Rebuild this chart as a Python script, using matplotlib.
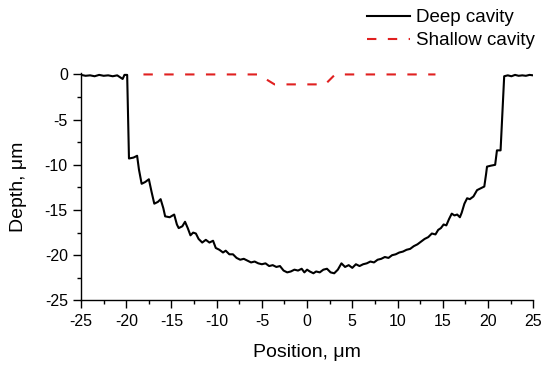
import matplotlib.pyplot as plt
from matplotlib.ticker import MultipleLocator

plt.rcParams['font.family'] = ['Liberation Sans', 'DejaVu Sans']
plt.rcParams['axes.unicode_minus'] = False

# deep cavity profile
deep_x = [-25.0, -24.5, -24.0, -23.5, -23.0, -22.5, -22.0, -21.5, -21.0, -20.7, -20.4, -20.2,
          -19.9, -19.7, -19.2, -18.8, -18.6, -18.3, -17.9, -17.5, -17.2, -16.9, -16.5, -16.2,
          -15.9, -15.7, -15.2, -14.7, -14.4, -14.2, -13.8, -13.5, -13.2, -12.9, -12.6, -12.3,
          -12.0, -11.6, -11.2, -10.8, -10.4, -10.1, -9.7, -9.3, -9.0, -8.6, -8.2, -7.8, -7.4,
          -7.0, -6.6, -6.2, -5.8, -5.4, -5.0, -4.6, -4.2, -3.8, -3.4, -3.0, -2.6, -2.2, -1.8,
          -1.4, -1.0, -0.6, -0.3, 0.0, 0.3, 0.7, 1.0, 1.4, 1.8, 2.2, 2.6, 3.0, 3.4, 3.8, 4.2,
          4.6, 5.0, 5.4, 5.8, 6.2, 6.6, 7.0, 7.4, 7.8, 8.2, 8.6, 9.0, 9.4, 9.8, 10.2, 10.6,
          11.0, 11.4, 11.8, 12.2, 12.6, 13.0, 13.4, 13.8, 14.2, 14.5, 14.8, 15.1, 15.4, 15.7,
          16.0, 16.3, 16.6, 16.9, 17.1, 17.4, 17.7, 18.0, 18.4, 18.8, 19.2, 19.6, 19.8, 19.9,
          20.3, 20.8, 21.0, 21.4, 21.8, 22.2, 22.6, 23.0, 23.4, 23.8, 24.2, 24.6, 25.0]
deep_y = [-0.05, -0.15, -0.1, -0.2, -0.05, -0.15, -0.1, -0.2, -0.1, -0.3, -0.5, -0.05,
          -0.05, -9.3, -9.2, -9.0, -10.5, -12.1, -11.9, -11.6, -13.0, -14.3, -14.1, -13.8,
          -14.8, -15.7, -15.8, -15.5, -16.6, -17.0, -16.8, -16.3, -17.0, -17.8, -17.5, -17.6,
          -18.2, -18.6, -18.3, -18.6, -18.4, -19.2, -19.4, -19.7, -19.5, -19.9, -19.9, -20.3, -20.5,
          -20.4, -20.6, -20.8, -20.7, -20.9, -21.0, -20.9, -21.2, -21.1, -21.3, -21.2, -21.7, -21.9, -21.8,
          -21.6, -21.7, -21.5, -21.9, -21.6, -21.8, -22.0, -21.8, -21.9, -21.6, -21.5, -21.9, -22.0, -21.6, -20.9, -21.3,
          -21.1, -21.4, -21.0, -21.2, -21.0, -20.9, -20.7, -20.8, -20.5, -20.4, -20.2, -20.3, -20.0, -19.9, -19.7, -19.6,
          -19.4, -19.3, -19.0, -18.8, -18.5, -18.2, -18.0, -17.6, -17.7, -17.2, -17.0, -16.6, -16.7, -16.0,
          -15.4, -15.6, -15.5, -15.8, -15.3, -14.3, -13.7, -13.8, -13.5, -12.8, -12.6, -12.4, -11.0, -10.2,
          -10.1, -10.0, -8.4, -8.4, -0.2, -0.1, -0.2, -0.05, -0.15, -0.1, -0.15, -0.05, -0.1]

# shallow cavity profile
shallow_x = [-18.1, -5.4, -3.6, 2.0, 3.1, 14.2]
shallow_y = [0.0, 0.0, -1.1, -1.1, 0.0, 0.0]

fig = plt.figure(figsize=(5.44, 3.65), dpi=100)
ax = fig.add_axes([0.149, 0.177, 0.831, 0.624])

ax.plot(deep_x, deep_y, color='black', lw=1.5, label='Deep cavity')
ax.plot(shallow_x, shallow_y, color='#e02020', lw=1.5, dashes=[4.5, 5.5], label='Shallow cavity')

ax.set_xlim(-25, 25)
ax.set_ylim(-25, 0.2)
ax.xaxis.set_major_locator(MultipleLocator(5))
ax.xaxis.set_minor_locator(MultipleLocator(2.5))
ax.yaxis.set_major_locator(MultipleLocator(5))
ax.yaxis.set_minor_locator(MultipleLocator(2.5))
ax.tick_params(which='major', direction='out', length=6, width=1, labelsize=11.5)
ax.tick_params(which='minor', direction='out', length=3, width=1)

for s in ['top', 'right']:
    ax.spines[s].set_visible(False)
for s in ['left', 'bottom']:
    ax.spines[s].set_linewidth(1)

ax.set_xlabel('Position, μm', fontsize=14, labelpad=11)
ax.set_ylabel('Depth, μm', fontsize=14, labelpad=13)

fig.legend(loc='upper right', bbox_to_anchor=(1.0, 1.0), frameon=False, fontsize=13.5,
           handlelength=2.3, handletextpad=0.3, labelspacing=0.3, borderaxespad=0.1)

fig.savefig('out.png', dpi=100)
